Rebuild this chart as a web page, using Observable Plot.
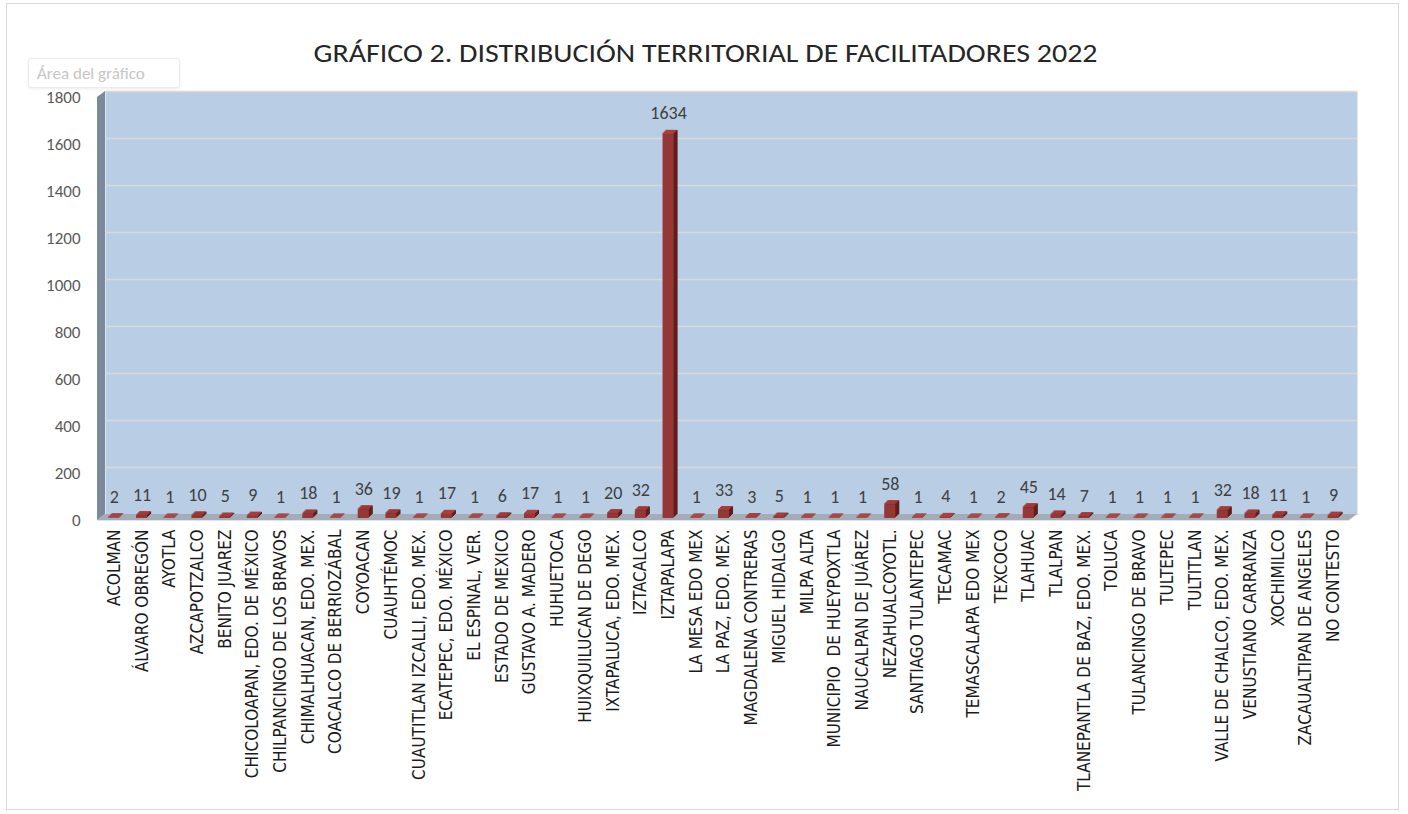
<!DOCTYPE html>
<html><head><meta charset="utf-8">
<script src="https://cdn.jsdelivr.net/npm/d3@7"></script>
<script src="https://cdn.jsdelivr.net/npm/@observablehq/plot@0.6"></script>
<style>
body{margin:0;background:#fff;}
#wrap{position:relative;width:1408px;height:814px;overflow:hidden;background:#fff;}
#border{position:absolute;left:6px;top:3px;width:1393px;height:807px;border:1px solid #d9d9d9;box-sizing:border-box;}
#tip{position:absolute;left:28px;top:58px;width:152px;height:30px;border:1px solid #ececec;border-radius:3px;box-shadow:0 1px 3px rgba(0,0,0,0.08);font:17px Carlito,Calibri,Lato,sans-serif;color:#c6c6c6;line-height:30px;padding-left:8px;box-sizing:border-box;background:#fff;}
#chart{position:absolute;left:0;top:0;}
</style></head>
<body><div id="wrap"><div id="border"></div><div id="chart"></div><div id="tip">Área del gráfico</div></div>
<script>
const categories = ["ACOLMAN","ÁLVARO OBREGÓN","AYOTLA","AZCAPOTZALCO","BENITO JUAREZ","CHICOLOAPAN, EDO. DE MÉXICO","CHILPANCINGO DE LOS BRAVOS","CHIMALHUACAN, EDO. MEX.","COACALCO DE BERRIOZÁBAL","COYOACAN","CUAUHTÉMOC","CUAUTITLAN IZCALLI, EDO. MEX.","ECATEPEC, EDO. MÉXICO","EL ESPINAL, VER.","ESTADO DE MEXICO","GUSTAVO A. MADERO","HUHUETOCA","HUIXQUILUCAN DE DEGO","IXTAPALUCA, EDO. MEX.","IZTACALCO","IZTAPALAPA","LA MESA EDO MEX","LA PAZ, EDO. MEX.","MAGDALENA CONTRERAS","MIGUEL HIDALGO","MILPA ALTA","MUNICIPIO  DE HUEYPOXTLA","NAUCALPAN DE JUÁREZ","NEZAHUALCOYOTL.","SANTIAGO TULANTEPEC","TECAMAC","TEMASCALAPA EDO MEX","TEXCOCO","TLAHUAC","TLALPAN","TLANEPANTLA DE BAZ, EDO. MEX.","TOLUCA","TULANCINGO DE BRAVO","TULTEPEC","TULTITLAN","VALLE DE CHALCO, EDO. MEX.","VENUSTIANO CARRANZA","XOCHIMILCO","ZACAUALTIPAN DE ANGELES","NO CONTESTO"];
const values = [2,11,1,10,5,9,1,18,1,36,19,1,17,1,6,17,1,1,20,32,1634,1,33,3,5,1,1,1,58,1,4,1,2,45,14,7,1,1,1,1,32,18,11,1,9];
const yTicks = [0,200,400,600,800,1000,1200,1400,1600,1800];
const gridTicks = [200,400,600,800,1000,1200,1400,1600,1800];
const title = "GRÁFICO 2. DISTRIBUCIÓN TERRITORIAL DE FACILITADORES 2022";

const data = categories.map((c, i) => ({c, v: values[i]}));
const calib = "Carlito, Calibri, Lato, sans-serif";
const narrow = "'Liberation Sans Narrow', 'Arial Narrow', 'DejaVu Sans Condensed', sans-serif";

const sideMarks = [1,2,3,4].map(k => Plot.barY(data, {x: "c", y: "v", fill: "#5f1e1c", dx: k, dy: -k - 2}));
const topMarks = [0,1,2,3].map(k => Plot.barY(data, {x: "c", y1: "v", y2: "v", insetTop: -1.2, fill: "#a8403d", dx: k, dy: -k - 2}));

const plot = Plot.plot({
  width: 1408, height: 814,
  marginLeft: 97, marginRight: 59, marginTop: 97, marginBottom: 294,
  x: {domain: categories, range: [100, 1347], paddingInner: 0.6, paddingOuter: 0.3, label: null},
  y: {domain: [0, 1800], label: null},
  style: {background: "transparent", fontFamily: calib},
  marks: [
    Plot.frame({fill: "#b9cde5", stroke: null, dx: 8, dy: -6}),
    Plot.gridY(gridTicks, {stroke: "#d9d9d9", strokeOpacity: 1, strokeWidth: 1.5, dx: 8, dy: -6}),
    Plot.axisY(yTicks, {tickSize: 0, tickPadding: 17, fontSize: 17, fill: "#595959", label: null, fontFamily: calib, tickFormat: d => String(d)}),
    Plot.axisX({tickSize: 0, tickPadding: 9, tickRotate: -90, fontSize: 17, fill: "#1a1a1a", fontFamily: narrow, label: null}),
    ...sideMarks,
    ...topMarks,
    Plot.barY(data, {x: "c", y: "v", fill: "#953735", dy: -2}),
    Plot.text(data, {x: "c", y: "v", text: d => String(d.v), dy: -23, fontSize: 18, fill: "#404040", fontFamily: calib}),
    Plot.text([title], {frameAnchor: "top", dx: -18, dy: -55, fontSize: 27, fill: "#262626", fontFamily: calib})
  ]
});

// 3D floor and left wall, derived from the scales
const ys = plot.scale("y");
const y0 = ys.apply(0), y1 = ys.apply(1800);
const xL = 97, xR = 1408 - 59, DX = 8, DY = -6;
const svg = d3.select(plot);
svg.insert("polygon", '[aria-label="bar"]')
  .attr("points", [[xL, y0], [xR, y0], [xR + DX, y0 + DY], [xL + DX, y0 + DY]].map(p => p.join(",")).join(" "))
  .attr("fill", "#a3adb9");
svg.insert("line", '[aria-label="bar"]')
  .attr("x1", xL).attr("x2", xR).attr("y1", y0 + 0.5).attr("y2", y0 + 0.5)
  .attr("stroke", "#dfe4ea").attr("stroke-width", 1);
svg.insert("polygon", '[aria-label="bar"]')
  .attr("points", [[xL, y1], [xL + DX, y1 + DY], [xL + DX, y0 + DY], [xL, y0]].map(p => p.join(",")).join(" "))
  .attr("fill", "#7b8a9b");
// stretch the title to the reference width
svg.selectAll('[aria-label="text"] text').filter(function() { return this.textContent === title; })
  .attr("textLength", 784).attr("lengthAdjust", "spacingAndGlyphs");

document.getElementById("chart").appendChild(plot);
</script>
</body></html>
